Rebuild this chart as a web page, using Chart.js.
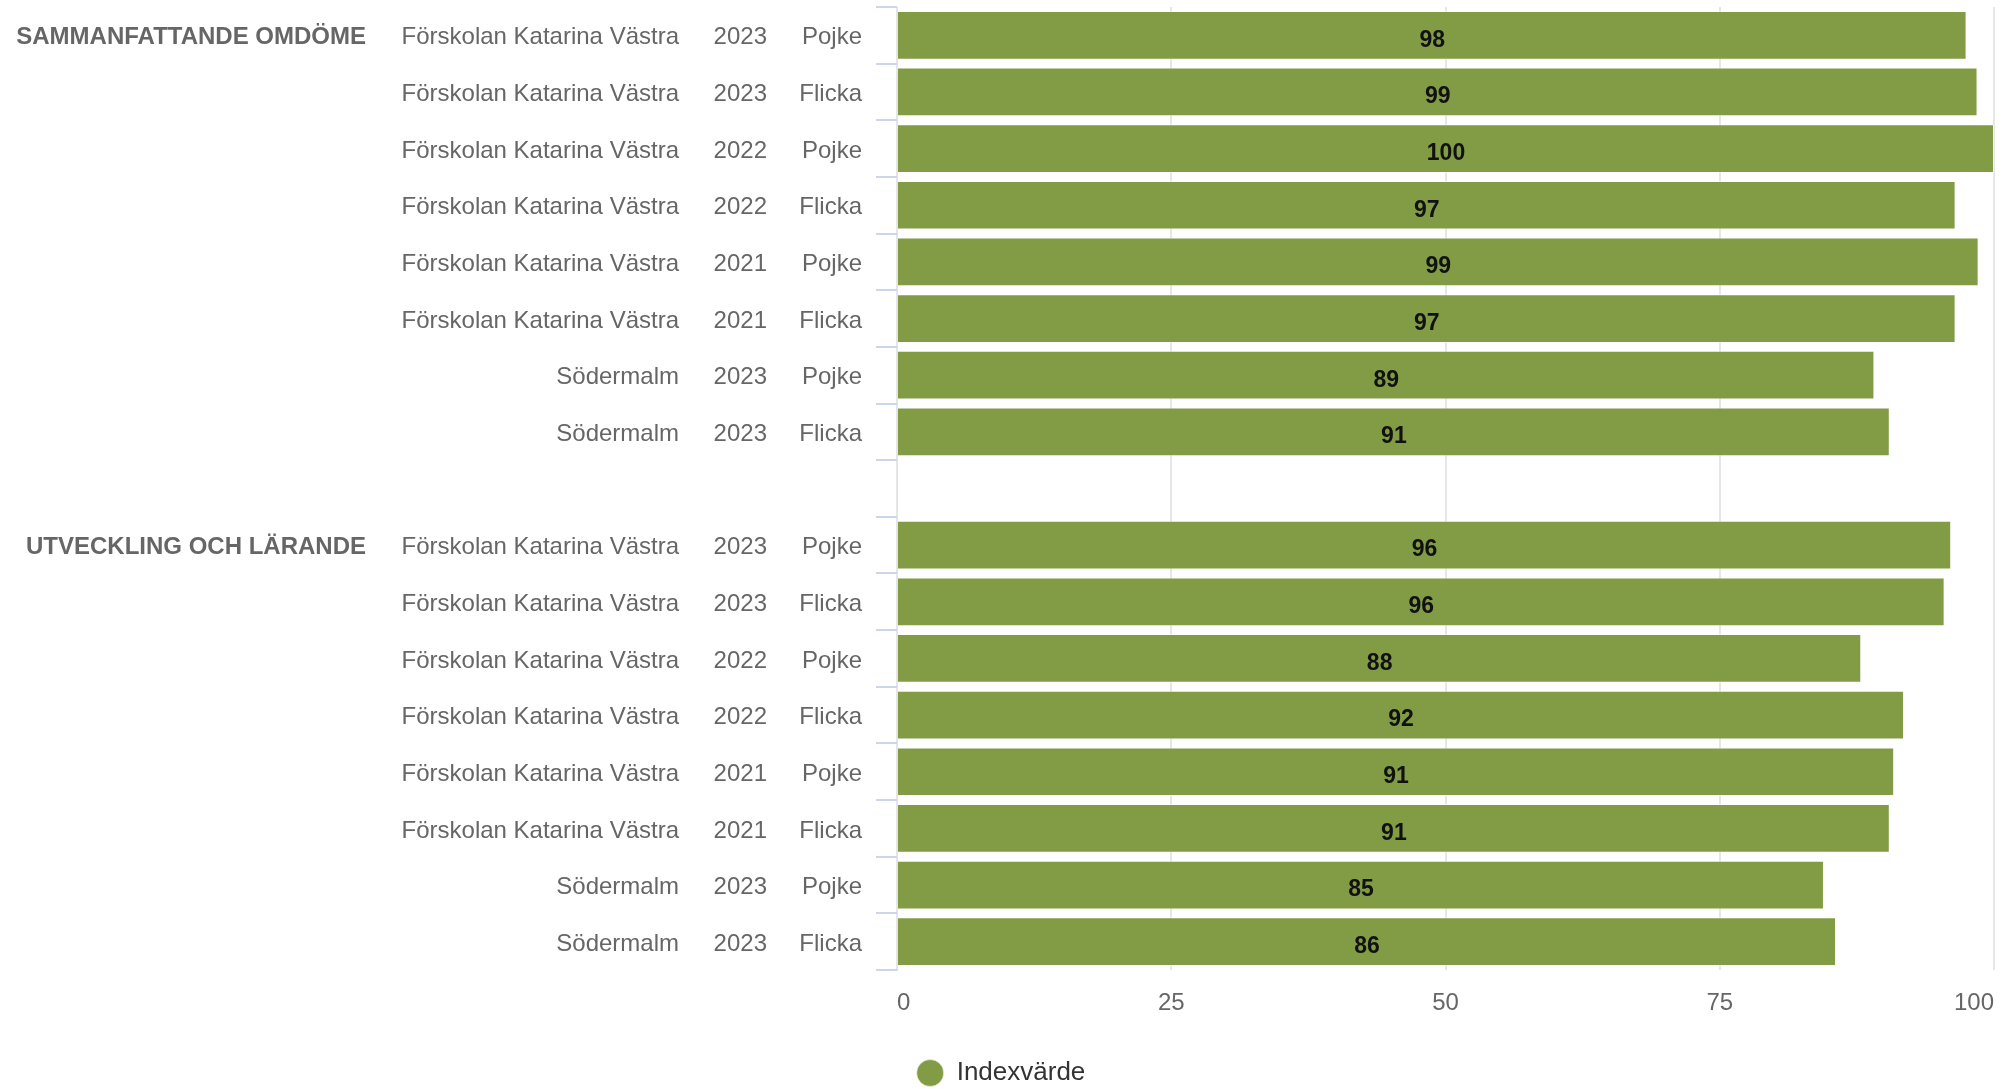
<!DOCTYPE html>
<html>
<head>
<meta charset="utf-8">
<script src="https://cdn.jsdelivr.net/npm/chart.js@4.4.0/dist/chart.umd.min.js"></script>
<style>
html,body{margin:0;padding:0;background:#ffffff;}
#wrap{width:2013px;height:1089px;position:relative;}
</style>
</head>
<body>
<div id="wrap"><canvas id="c"></canvas></div>
<script>
const groupLabels = ['SAMMANFATTANDE OMDÖME','','','','','','','','','UTVECKLING OCH LÄRANDE','','','','','','',''];
const unitLabels = ['Förskolan Katarina Västra','Förskolan Katarina Västra','Förskolan Katarina Västra','Förskolan Katarina Västra','Förskolan Katarina Västra','Förskolan Katarina Västra','Södermalm','Södermalm','',
                    'Förskolan Katarina Västra','Förskolan Katarina Västra','Förskolan Katarina Västra','Förskolan Katarina Västra','Förskolan Katarina Västra','Förskolan Katarina Västra','Södermalm','Södermalm'];
const yearLabels = ['2023','2023','2022','2022','2021','2021','2023','2023','',
                    '2023','2023','2022','2022','2021','2021','2023','2023'];
const genderLabels = ['Pojke','Flicka','Pojke','Flicka','Pojke','Flicka','Pojke','Flicka','',
                      'Pojke','Flicka','Pojke','Flicka','Pojke','Flicka','Pojke','Flicka'];
const indexValues = [97.5, 98.5, 100, 96.5, 98.6, 96.5, 89.1, 90.5, null,
                     96.1, 95.5, 87.9, 91.8, 90.9, 90.5, 84.5, 85.6];
const xTickValues = [0, 25, 50, 75, 100];
const seriesName = 'Indexvärde';

const FONT = '"Liberation Sans", Arial, Helvetica, sans-serif';
const GREEN = '#819c44';

const barValueLabels = {
  id: 'barValueLabels',
  afterDatasetsDraw(chart) {
    const ctx = chart.ctx;
    const meta = chart.getDatasetMeta(0);
    const data = chart.data.datasets[0].data;
    ctx.save();
    ctx.font = 'bold 23px ' + FONT;
    ctx.fillStyle = '#111111';
    ctx.textAlign = 'center';
    ctx.textBaseline = 'middle';
    meta.data.forEach((bar, i) => {
      const v = data[i];
      if (v === null || v === undefined) return;
      const p = bar.getProps(['x', 'y', 'base'], true);
      ctx.fillText(String(Math.round(v)), (p.x + p.base) / 2, p.y + 5);
    });
    ctx.restore();
  }
};

function fixWidth(w) {
  return function(s) { s.width = w; s.paddingTop = 0; s.paddingBottom = 0; };
}

const helperGrid = { display: false, drawTicks: false, drawOnChartArea: false };
const labelFont = { family: FONT, size: 24 };

new Chart(document.getElementById('c'), {
  type: 'bar',
  data: {
    labels: genderLabels,
    datasets: [{
      label: seriesName,
      data: indexValues,
      backgroundColor: GREEN,
      borderColor: 'rgba(255,255,255,0.55)',
      borderWidth: 1,
      barPercentage: 0.86,
      categoryPercentage: 1.0,
      yAxisID: 'y'
    }]
  },
  options: {
    indexAxis: 'y',
    responsive: true,
    maintainAspectRatio: false,
    animation: false,
    devicePixelRatio: 1,
    layout: { padding: { top: 7, right: 19, bottom: 0, left: 8 } },
    plugins: {
      tooltip: { enabled: false },
      legend: {
        position: 'bottom',
        maxHeight: 39,
        labels: {
          usePointStyle: true,
          pointStyle: 'circle',
          pointStyleWidth: 27,
          boxHeight: 19,
          padding: 10,
          color: '#333333',
          font: { family: FONT, size: 26 }
        }
      }
    },
    scales: {
      x: {
        type: 'linear',
        min: 0,
        max: 100,
        afterBuildTicks: s => { s.ticks = xTickValues.map(v => ({ value: v })); },
        afterFit: s => { s.height = 80; s.paddingLeft = 0; s.paddingRight = 0; },
        ticks: { color: '#666666', font: labelFont, padding: 19, maxRotation: 0, align: 'inner' },
        grid: { color: '#e6e6e6', lineWidth: 2, drawTicks: false },
        border: { display: false }
      },
      y: {
        type: 'category',
        position: 'left',
        weight: 1,
        offset: true,
        afterFit: fixWidth(112),
        ticks: { color: '#666666', font: labelFont, padding: 14, crossAlign: 'near', autoSkip: false, labelOffset: 2.5 },
        grid: { display: true, offset: true, drawOnChartArea: false, drawTicks: true, tickLength: 21, color: '#ccd6eb', lineWidth: 2 },
        border: { display: true, color: '#e3e3e3', width: 1 }
      },
      yYear: {
        type: 'category',
        position: 'left',
        weight: 2,
        offset: true,
        labels: yearLabels,
        afterFit: fixWidth(90),
        ticks: { color: '#666666', font: labelFont, padding: 18, crossAlign: 'center', autoSkip: false, labelOffset: 2.5 },
        grid: helperGrid,
        border: { display: false }
      },
      yUnit: {
        type: 'category',
        position: 'left',
        weight: 3,
        offset: true,
        labels: unitLabels,
        afterFit: fixWidth(315),
        ticks: { color: '#666666', font: labelFont, padding: 16, crossAlign: 'near', autoSkip: false, labelOffset: 2.5 },
        grid: helperGrid,
        border: { display: false }
      },
      yGroup: {
        type: 'category',
        position: 'left',
        weight: 4,
        offset: true,
        labels: groupLabels,
        afterFit: fixWidth(372),
        ticks: { color: '#666666', font: { family: FONT, size: 24, weight: 'bold' }, padding: 14, crossAlign: 'near', autoSkip: false, labelOffset: 2.5 },
        grid: helperGrid,
        border: { display: false }
      }
    }
  },
  plugins: [barValueLabels]
});
</script>
</body>
</html>
